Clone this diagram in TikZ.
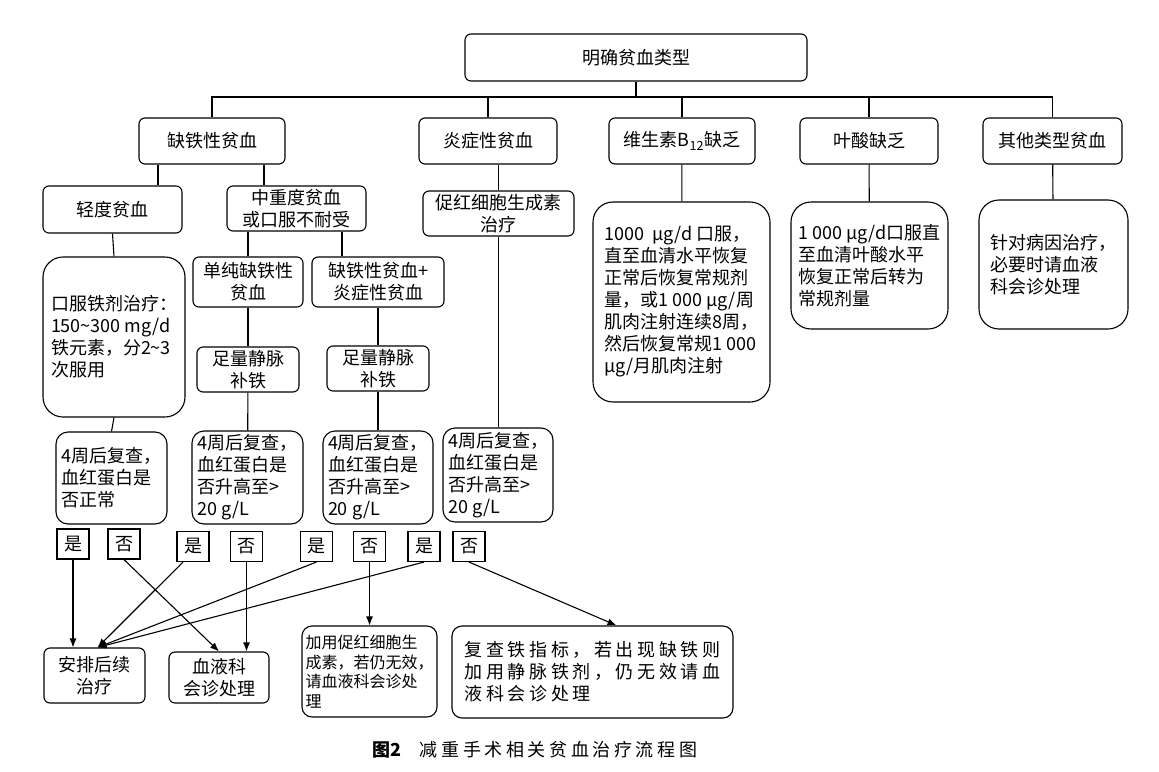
\documentclass[tikz,border=0pt]{standalone}
\usepackage{fontspec}
\setmainfont{Noto Sans CJK SC}
\newfontfamily\cjkwide[LetterSpace=20]{Noto Sans CJK SC}
\usepackage{tikz}
\usetikzlibrary{arrows.meta}

\begin{document}
\begin{tikzpicture}[
  x=1pt, y=-1pt,
  font=\fontsize{18}{22}\selectfont,
  wh/.style 2 args={minimum width=#1pt, minimum height=#2pt},
  box/.style={draw, line width=1.1pt, rounded corners=6pt, inner sep=2pt, align=center},
  bigbox/.style={box, rounded corners=20pt, align=left},
  askbox/.style={box, rounded corners=12pt, align=left},
  yn/.style={draw, line width=1.1pt, wh={32}{30}, inner sep=0pt},
  link/.style={line width=1.1pt},
  go/.style={line width=1.1pt, -{Latex[length=9pt,width=7pt]}}
]
  \useasboundingbox (0,0) rectangle (1159,771);

  % --- top level ---
  \node[box, wh={342}{47}] (top) at (636,57.5) {明确贫血类型};
  \node[box, wh={146}{46}] (qtx) at (212,141) {缺铁性贫血};
  \node[box, wh={138}{46}] (yzx) at (488,141) {炎症性贫血};
  \node[box, wh={146}{46}] (vb12) at (682,141) {维生素B\textsubscript{12}缺乏};
  \node[box, wh={138}{46}] (ys) at (869,141) {叶酸缺乏};
  \node[box, wh={139}{46}] (qt) at (1052.5,141) {其他类型贫血};

  \coordinate (bus) at (0,97);
  \draw[link] (top.south) -- (top.south |- bus);
  \draw[link] (qtx.north) -- (qtx.north |- bus) -- (qt.north |- bus) -- (qt.north);
  \foreach \n in {yzx,vb12,ys} {\draw[link] (\n.north) -- (\n.north |- bus);}

  % --- second level ---
  \node[box, wh={139}{47}] (qd) at (112.5,209.5) {轻度贫血};
  \node[box, wh={139}{45}] (zzd) at (296.5,208.5) {中重度贫血\\或口服不耐受};
  \node[box, wh={151}{45}] (epo) at (498.5,213.5) {促红细胞生成素\\治疗};
  \node[bigbox, wh={177}{200}] (b12txt) at (681.5,302)
    {1000\ \ μg/d 口服，\\直至血清水平恢复\\正常后恢复常规剂\\量，或1 000 μg/周\\肌肉注射连续8周，\\然后恢复常规1 000\\μg/月肌肉注射};
  \node[bigbox, wh={157}{127}] (ystxt) at (869.5,265.5)
    {1 000 μg/d口服直\\至血清叶酸水平\\恢复正常后转为\\常规剂量};
  \node[bigbox, wh={149}{129}] (qttxt) at (1053.5,264.5)
    {针对病因治疗，\\必要时请血液\\科会诊处理};

  \draw[link] ([xshift=-54pt]qtx.south) -- ([xshift=-54pt]qtx.south |- qd.north);
  \draw[link] ([xshift=52pt]qtx.south) -- ([xshift=52pt]qtx.south |- zzd.north);
  \draw[link] (epo.north) -- (epo.north |- yzx.south);
  \draw[link] (vb12) -- (b12txt);
  \draw[link] (ys) -- (ystxt);
  \draw[link] (qt) -- (qttxt);

  % --- third level ---
  \node[bigbox, wh={142}{160}] (oral) at (114,337)
    {口服铁剂治疗：\\150\textasciitilde300 mg/d\\铁元素，分2\textasciitilde3\\次服用};
  \node[box, wh={110}{50}] (pure) at (248,282) {单纯缺铁性\\贫血};
  \node[box, wh={132}{50}] (mix) at (378,282) {缺铁性贫血+\\炎症性贫血};
  \node[box, wh={102}{45}] (iv1) at (248,369.5) {足量静脉\\补铁};
  \node[box, wh={102}{45}] (iv2) at (378,368.5) {足量静脉\\补铁};

  \draw[link] (qd.south) -- (oral.north);
  \draw[link] (pure.north) -- (pure.north |- zzd.south);
  \draw[link] ([xshift=-36pt]mix.north) -- ([xshift=-36pt]mix.north |- zzd.south);
  \draw[link] (pure) -- (iv1);
  \draw[link] (mix) -- (iv2);

  % --- re-check after 4 weeks ---
  \node[askbox, wh={111}{92}] (chk1) at (111.5,478) {4周后复查，\\血红蛋白是\\否正常};
  \node[askbox, wh={111}{93}] (chk2) at (247.5,477.5) {4周后复查，\\血红蛋白是\\否升高至>\\20 g/L};
  \node[askbox, wh={110}{93}] (chk3) at (378,477.5) {4周后复查，\\血红蛋白是\\否升高至>\\20 g/L};
  \node[askbox, wh={110}{94}] (chk4) at (498,475) {4周后复查，\\血红蛋白是\\否升高至>\\20 g/L};

  \draw[link] (oral.south) -- (chk1.north);
  \draw[link] (iv1) -- (chk2);
  \draw[link] (iv2) -- (chk3);
  \draw[link] (epo.south) -- (epo.south |- chk4.north);

  % --- yes / no ---
  \node[yn] (y1) at (73,544) {是};
  \node[yn] (n1) at (124,544) {否};
  \node[yn] (y2) at (193,546.5) {是};
  \node[yn] (n2) at (246.5,546.5) {否};
  \node[yn] (y3) at (316.5,546.5) {是};
  \node[yn] (n3) at (369.5,546.5) {否};
  \node[yn] (y4) at (424,546.5) {是};
  \node[yn] (n4) at (469,546.5) {否};

  % --- outcomes ---
  \node[box, wh={101}{55}] (plan) at (94.5,675.5) {安排后续\\治疗};
  \node[box, wh={100}{51}] (hema) at (219,677.5) {血液科\\会诊处理};
  \node[askbox, wh={135}{91}, rounded corners=10pt, font=\fontsize{16}{19.5}\selectfont] (addepo) at (369.5,671.5)
    {加用促红细胞生\\成素，若仍无效，\\请血液科会诊处\\理};
  \node[askbox, wh={281}{92}, rounded corners=10pt] (recheck) at (592.5,672)
    {\cjkwide 复查铁指标，若出现缺铁则\\\cjkwide 加用静脉铁剂，仍无效请血\\\cjkwide 液科会诊处理};

  \coordinate (planin) at ([xshift=3pt]plan.north);
  \draw[go] (y1.south) -- (y1.south |- plan.north);
  \draw[go] (n1.south) -- (hema.north);
  \draw[go] ([xshift=-10pt]y2.south) -- (planin);
  \draw[go] (n2.south) -- (n2.south |- hema.north);
  \draw[go] (y3.south) -- (planin);
  \draw[go] (n3.south) -- (n3.south |- addepo.north);
  \draw[go] (y4.south) -- (planin);
  \draw[go] (n4.south) -- ([xshift=24pt]recheck.north);

  % --- caption ---
  \node (cap) at (535,750) {{\bfseries 图2}\quad{\cjkwide 减重手术相关贫血治疗流程图}};
\end{tikzpicture}
\end{document}
